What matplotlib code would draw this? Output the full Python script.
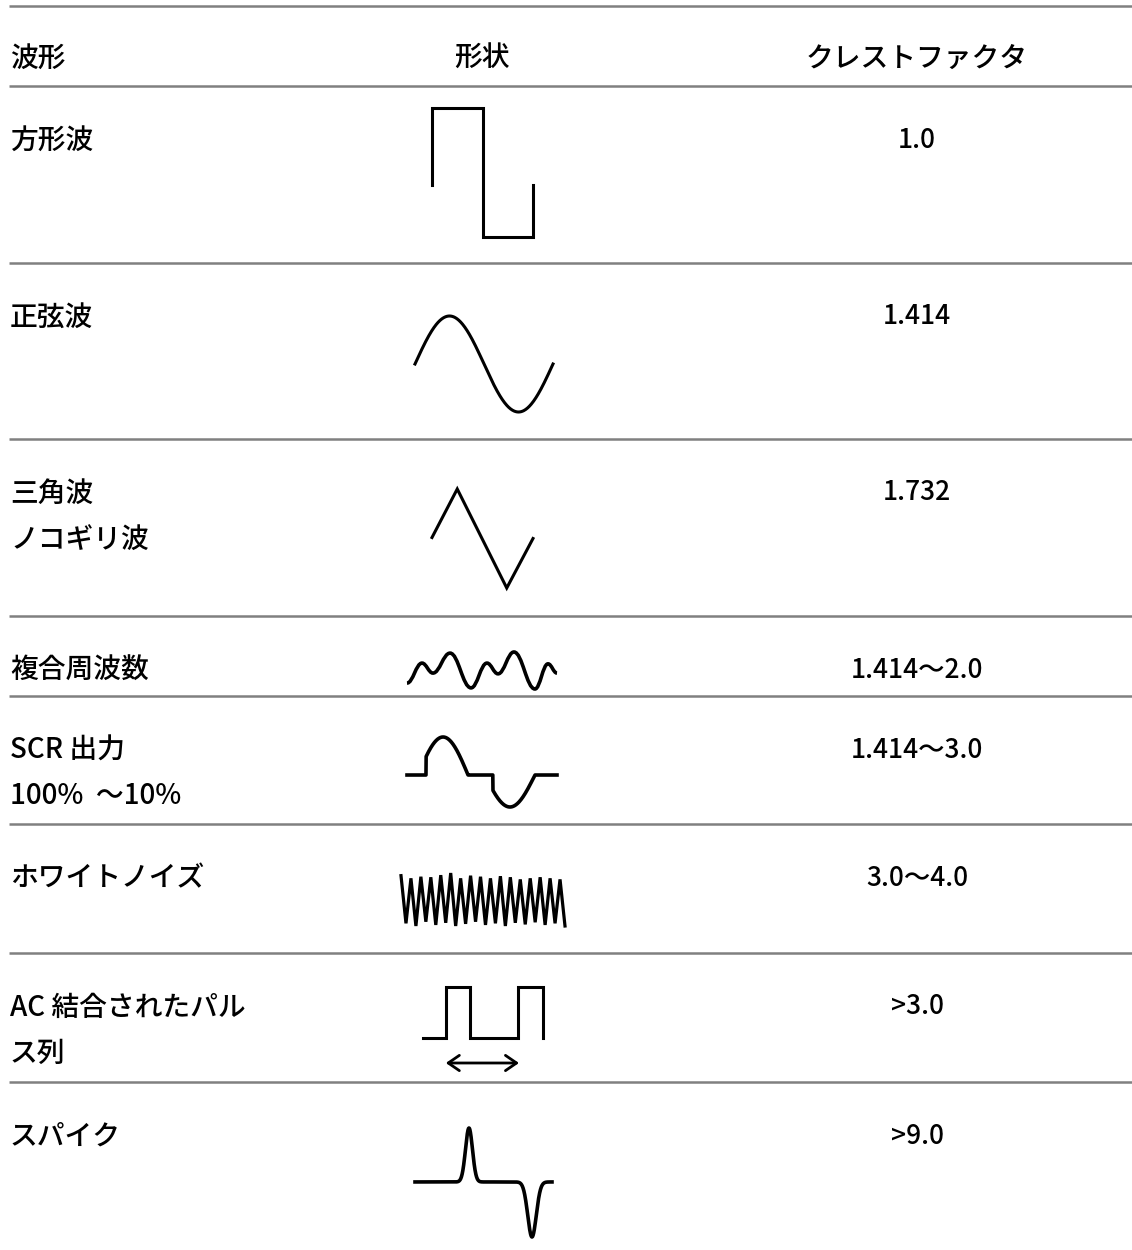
import numpy as np
import matplotlib
matplotlib.use('Agg')
import matplotlib.pyplot as plt
from matplotlib.path import Path
from matplotlib.patches import PathPatch

plt.rcParams['font.family'] = ['Noto Sans CJK JP', 'DejaVu Sans']

# table text
header = ['波形', '形状', 'クレストファクタ']
names = [['方形波'], ['正弦波'], ['三角波', 'ノコギリ波'], ['複合周波数'],
         ['SCR 出力', '100%  ～10%'], ['ホワイトノイズ'],
         ['AC 結合されたパル', 'ス列'], ['スパイク']]
crest = ['1.0', '1.414', '1.732', '1.414～2.0', '1.414～3.0', '3.0～4.0',
         '>3.0', '>9.0']

# waveform shapes, u = 0..1 across, v = 0 (bottom) .. 1 (top)
square_u = [0, 0, 0.5, 0.5, 1, 1]
square_v = [0.40, 1, 1, 0, 0, 0.40]
tri_u = [0, 0.25, 0.74, 1]
tri_v = [0.51, 1, 0, 0.50]
comp_u = [0, 0.10, 0.173, 0.287, 0.427, 0.533, 0.607, 0.713, 0.853, 0.94, 1.0]
comp_v = [0.16, 0.70, 0.43, 0.97, 0.03, 0.70, 0.41, 1.0, 0.0, 0.68, 0.43]
scr_base = 0.457
scr_lobes = [(0.127, 0.407, 0.543), (0.573, 0.853, -0.457)]  # start, end, amplitude
scr_chop = 0.16 * np.pi
noise_peaks = [0.95, 0.90, 0.93, 0.92, 0.96, 1.0, 0.90, 0.95, 0.93, 0.90,
               0.94, 0.92, 0.88, 0.90, 0.92, 0.90, 0.88]
noise_troughs = [0.05, 0.0, 0.08, 0.02, 0.06, 0.0, 0.04, 0.08, 0.02, 0.05,
                 0.0, 0.06, 0.03, 0.07, 0.02, 0.05, 0.0]
pulse_u = [0, 0.19, 0.19, 0.39, 0.39, 0.79, 0.79, 1.0, 1.0]
pulse_v = [0, 0, 1, 1, 0, 0, 1, 1, 0]
pulse_arrow = (0.19, 0.80)
spike_base = 0.505
spikes = [(0.394, 0.036, 0.495), (0.854, 0.044, -0.505)]  # centre, width, height

# layout in pixels
rule_y = [6, 86, 263, 439, 616, 696, 824, 953, 1082]
header_y = 58
row_y = [140, 317, 493, 670, 750, 878, 1007, 1136]
line_gap = 46
col_x = [10, 482, 917]
boxes = {
    'square': (432, 533, 108, 237),
    'sine': (415, 553, 316, 412),
    'tri': (432, 533, 489, 588),
    'comp': (407, 557, 652, 689),
    'scr': (407, 557, 737, 807),
    'noise': (401, 565, 873, 926),
    'pulse': (423, 543, 987, 1038),
    'spike': (415, 552, 1128, 1237),
}
fs = 20
fw = 'medium'


def place(u, v, box):
    x0, x1, yt, yb = box
    return x0 + np.asarray(u) * (x1 - x0), yb - np.asarray(v) * (yb - yt)


def smooth_path(xs, ys):
    verts = [(xs[0], ys[0])]
    codes = [Path.MOVETO]
    for i in range(1, len(xs)):
        d = (xs[i] - xs[i - 1]) * 0.4
        verts += [(xs[i - 1] + d, ys[i - 1]), (xs[i] - d, ys[i]), (xs[i], ys[i])]
        codes += [Path.CURVE4] * 3
    return Path(verts, codes)


fig = plt.figure(figsize=(11.32, 12.5), dpi=100)
ax = fig.add_axes([0, 0, 1, 1])
ax.set_xlim(0, 1132)
ax.set_ylim(1250, 0)
ax.axis('off')

for y in rule_y:
    ax.plot([9, 1132], [y, y], color='#808080', lw=1.8, solid_capstyle='butt')

ax.text(col_x[0], header_y, header[0], fontsize=fs, fontweight=fw, va='center', ha='left')
ax.text(col_x[1], header_y, header[1], fontsize=fs, fontweight=fw, va='center', ha='center')
ax.text(col_x[2], header_y, header[2], fontsize=fs, fontweight=fw, va='center', ha='center')

for i, lines in enumerate(names):
    for j, s in enumerate(lines):
        ax.text(col_x[0], row_y[i] + j * line_gap, s, fontsize=fs, fontweight=fw,
                va='center', ha='left')
    ax.text(col_x[2], row_y[i], crest[i], fontsize=fs - 1, fontweight=fw,
            va='center', ha='center')

k = dict(color='black', solid_joinstyle='miter')

# square
x, y = place(square_u, square_v, boxes['square'])
ax.plot(x, y, lw=2.2, **k)

# sine
th = np.linspace(0, 2 * np.pi, 300)
x, y = place(th / (2 * np.pi), 0.5 + 0.5 * np.sin(th), boxes['sine'])
ax.plot(x, y, lw=2.2, color='black')

# triangle
x, y = place(tri_u, tri_v, boxes['tri'])
ax.plot(x, y, lw=2.2, **k)

# composite
x, y = place(comp_u, comp_v, boxes['comp'])
ax.add_patch(PathPatch(smooth_path(x, y), facecolor='none', edgecolor='black', lw=2.6))

# SCR
u = np.linspace(0, 1, 800)
v = np.full_like(u, scr_base)
for a, b, amp in scr_lobes:
    m = (u >= a) & (u <= b)
    ph = scr_chop + (np.pi - scr_chop) * (u[m] - a) / (b - a)
    v[m] = scr_base + amp * np.sin(ph)
x, y = place(u, v, boxes['scr'])
ax.plot(x, y, lw=2.6, color='black')

# white noise
n = len(noise_peaks)
step = 1.0 / (n - 0.5)
nu, nv = [], []
for i in range(n):
    nu += [i * step, (i + 0.5) * step]
    nv += [noise_peaks[i], noise_troughs[i]]
x, y = place(nu, nv, boxes['noise'])
ax.plot(x, y, lw=2.3, **k)

# AC coupled pulse train
x, y = place(pulse_u, pulse_v, boxes['pulse'])
ax.plot(x, y, lw=2.2, **k)
ax_x, _ = place(list(pulse_arrow), [0, 0], boxes['pulse'])
ax.annotate('', xy=(ax_x[1], 1063), xytext=(ax_x[0], 1063),
            arrowprops=dict(arrowstyle='<->,head_length=0.8,head_width=0.55',
                            lw=2, color='black', shrinkA=0, shrinkB=0))

# spike
u = np.linspace(0, 1, 800)
v = np.full_like(u, spike_base)
for c, w, h in spikes:
    v = v + h * np.exp(-((u - c) / w) ** 2)
x, y = place(u, v, boxes['spike'])
ax.plot(x, y, lw=2.6, color='black')

fig.savefig('out.png', dpi=100, facecolor='white')
